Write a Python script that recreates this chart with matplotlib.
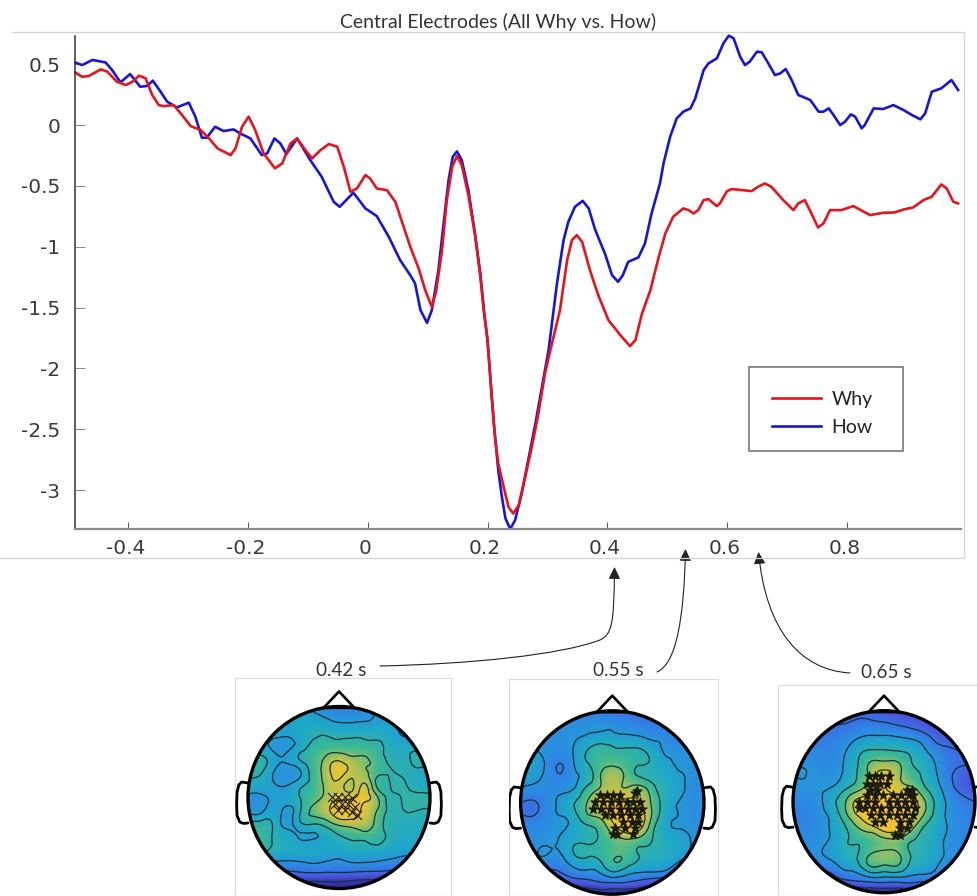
import numpy as np
import matplotlib
matplotlib.use("Agg")
import matplotlib.pyplot as plt
import matplotlib.tri as mtri
from matplotlib.colors import LinearSegmentedColormap
from matplotlib.lines import Line2D
from matplotlib.patches import Circle, FancyArrowPatch, Rectangle
from matplotlib.path import Path
from matplotlib.transforms import ScaledTranslation

# ---------- curve data ----------
how_t = [-.488,-.477,-.46,-.438,-.427,-.413,-.397,-.38,-.369,-.359,-.346,-.335,-.319,-.299,-.288,-.277,-.269,-.255,-.241,-.224,-.213,-.196,-.177,-.168,-.156,-.146,-.136,-.118,-.096,-.077,-.057,-.047,-.035,-.024,-.004,.015,.035,.054,
 .071,.079,.088,.099,.107,.118,.127,.135,.142,.149,.157,.168,.179,.188,.194,.2,.205,.211,.218,.224,.23,.238,.246,.257,.268,.28,.291,.302,.316,.327,.335,.346,.359,.369,.38,.396,.408,.418,.426,.435,.452,.463,.474,.488,
 .494,.505,.516,.527,.539,.547,.561,.569,.583,.594,.603,.611,.622,.63,.638,.65,.658,.669,.68,.689,.698,.708,.719,.73,.739,.753,.761,.77,.778,.789,.797,.807,.814,.825,.83,.845,.861,.878,.895,.909,.923,.931,.942,.958,.975,.986]
how_v = [.513,.493,.535,.515,.452,.351,.419,.315,.321,.365,.274,.192,.145,.184,.069,-.104,-.104,-.014,-.049,-.036,-.069,-.11,-.247,-.233,-.11,-.151,-.238,-.11,-.288,-.425,-.63,-.672,-.611,-.556,-.685,-.748,-.918,-1.11,
 -1.234,-1.302,-1.521,-1.626,-1.521,-1.192,-.795,-.452,-.26,-.217,-.288,-.535,-.89,-1.22,-1.521,-1.768,-2.097,-2.48,-2.837,-3.056,-3.234,-3.32,-3.248,-3.03,-2.755,-2.453,-2.152,-1.85,-1.302,-.946,-.795,-.672,-.623,-.685,-.863,-1.055,-1.234,-1.288,-1.234,-1.124,-1.088,-.973,-.726,-.48,
 -.315,-.096,.055,.11,.137,.219,.452,.507,.548,.672,.735,.713,.562,.493,.521,.603,.598,.507,.411,.425,.461,.37,.247,.225,.206,.11,.11,.137,.082,0,.027,.088,.069,-.027,0,.137,.132,.164,.123,.082,.047,.096,.274,.302,.37,.288]

why_t = [-.488,-.477,-.466,-.446,-.435,-.419,-.404,-.393,-.382,-.371,-.36,-.349,-.341,-.324,-.31,-.296,-.279,-.265,-.251,-.229,-.221,-.21,-.199,-.188,-.174,-.155,-.143,-.129,-.118,-.104,-.093,-.079,-.065,-.051,-.04,-.029,-.018,-.004,.004,.015,.032,.046,
 .071,.085,.096,.107,.114,.124,.132,.141,.149,.157,.168,.179,.188,.194,.2,.207,.213,.218,.227,.235,.243,.252,.263,.274,.285,.296,.305,.321,.333,.341,.349,.358,.371,.385,.402,.422,.438,.447,.458,.472,.486,.497,.51,.527,
 .536,.544,.552,.561,.569,.583,.588,.6,.608,.641,.652,.663,.674,.694,.711,.719,.73,.741,.752,.761,.772,.791,.811,.839,.861,.88,.895,.911,.928,.942,.958,.967,.978,.986]
why_v = [.43,.397,.403,.458,.439,.356,.329,.356,.406,.384,.247,.164,.156,.164,.082,-.008,-.041,-.11,-.192,-.247,-.192,-.014,.069,-.041,-.233,-.356,-.315,-.151,-.11,-.206,-.274,-.206,-.156,-.178,-.343,-.548,-.521,-.411,-.439,-.521,-.535,-.63,
 -1.0,-1.179,-1.357,-1.494,-1.371,-1.028,-.617,-.343,-.255,-.329,-.576,-.9,-1.247,-1.535,-1.768,-2.234,-2.59,-2.782,-2.974,-3.139,-3.193,-3.125,-2.892,-2.645,-2.371,-2.042,-1.85,-1.521,-1.11,-.946,-.905,-.96,-1.192,-1.398,-1.604,-1.727,-1.817,-1.768,-1.549,-1.357,-1.083,-.891,-.754,-.685,
 -.699,-.726,-.699,-.617,-.609,-.666,-.644,-.543,-.526,-.543,-.507,-.48,-.507,-.617,-.699,-.644,-.617,-.726,-.842,-.809,-.699,-.699,-.666,-.74,-.721,-.718,-.694,-.677,-.617,-.589,-.488,-.521,-.63,-.644]

x_ticks = [-0.4, -0.2, 0, 0.2, 0.4, 0.6, 0.8]
x_labels = ["-0.4", "-0.2", "0", "0.2", "0.4", "0.6", "0.8"]
y_ticks = [0.5, 0, -0.5, -1, -1.5, -2, -2.5, -3]
y_labels = ["0.5", "0", "-0.5", "-1", "-1.5", "-2", "-2.5", "-3"]
title_text = "Central Electrodes (All Why vs. How)"
series_names = ["Why", "How"]

# ---------- scalp map data (rows run front to back of the head) ----------
map_042 = [
 [4,4,4,4,4,3.2,3,3,3,3.2,3.6,3.6,3,3,3],
 [4,4,4,4,3.9,3.9,3.6,3.3,3.3,3.4,3.7,3.8,3.2,3.2,3.2],
 [4,4,4,3.8,4,4.3,4.4,4.2,4.2,4.2,4.1,4,3.3,3.7,3.8],
 [4,3.9,3.2,3.2,3.9,4.7,4.8,4.8,4.8,4.8,4.7,4.1,4,4.2,4],
 [4.6,4.7,3.9,3.7,4.6,5,5.7,6.2,5.7,5.6,4.9,4.3,4.2,4.8,4.2],
 [4.7,4.6,3.5,2.9,3.4,4.9,6,7,6,5.6,4.9,4.6,4.2,4.2,4],
 [4.2,4.1,3.6,3.4,4.2,4.8,5.8,6.1,5.3,6.6,4.1,4.6,4.7,3.8,4],
 [3.3,3.2,3.8,4,4.5,5,5.8,6.2,6.3,6.8,5.5,4.2,4.7,4.9,4.7],
 [3.3,3.2,4,3.2,4.4,5.7,6.2,7.2,7.2,6.2,5.4,4.2,4.5,4.5,4.4],
 [4.7,4.8,4.3,3.2,4.3,4.6,5,5.8,6,6.2,5,4.2,4.2,4.2,4],
 [5,4.9,4.4,4,3.4,3.4,3.8,4.4,4.7,4.9,4.9,4.2,4.1,4.2,4],
 [5,4.7,4.4,4.4,4.2,4.2,4.1,3.9,4.2,4.2,4.2,4.1,3.9,3.9,3.6],
 [3.6,3.6,3.4,3.3,3.4,3.6,3.4,3.3,3.5,3.5,3.4,3.2,3,3,3],
 [2,2,2,2.1,2.2,2.2,2.2,2.2,2.1,2,2,2,2,2,2],
 [.6,.6,.6,.6,.6,.6,.6,.6,.6,.6,.6,.6,.6,.6,.6],
]
map_055 = [
 [3,3,3,3,3,3,2.8,2.6,2.6,2.6,2.6,2.6,2.6,2.8,3],
 [3.2,3.2,3.2,3.2,3.2,3.3,3.4,3.3,3,2.8,2.7,2.5,2.5,2.8,3],
 [3.3,3.3,3.3,3.3,3.4,3.6,3.8,3.8,3.7,3.6,3.3,3.2,2.7,3,3.1],
 [3.6,3.6,3.2,3.2,3.5,4.4,5,4.7,4.6,4.6,4.1,3.4,3.3,3.3,3.3],
 [4,4,3.3,2.5,3.4,4.4,5,5.2,4.9,4.6,4.4,3.8,3.4,3.3,3.3],
 [3.9,3.8,3.2,2.6,3.2,3.9,5.3,6.4,5.3,4.5,4.2,4.1,3.8,3.3,3.3],
 [3.4,3.2,3.2,3.2,3.5,4.7,5.6,5.8,5.6,6,5,4.2,4.1,3,3.3],
 [2.5,2.4,3,3.7,4.4,5.4,6.8,6.8,6.8,6.5,5.4,4.1,3.5,3.3,3.3],
 [2.6,2.5,3.1,3.5,4,5.3,5.8,6.8,7,7,5.5,4,3.5,3.3,3.3],
 [3.2,3.2,3.3,3.4,3.7,4.2,4.7,6,7,6.8,4.9,3.7,3.5,3.3,3.3],
 [3.2,3.3,3.4,3.6,4.3,4.4,4.6,5,5.2,4.9,4.5,4.2,4.3,3.5,3.3],
 [3.3,3.4,3.5,3.4,4.4,4.6,4.7,5.3,5.3,4.5,4.4,4.3,3.9,3.4,3.3],
 [3,3,2.7,2.7,3.4,3.7,3.9,5,4.5,4,4,3.8,3.2,3.2,3],
 [2,2,2,2,2.2,2.3,2.6,2.8,2.7,2.4,2.1,2,2,2,2],
 [.8,.8,.8,.8,.8,.8,.8,.8,.8,.8,.8,.8,.8,.8,.8],
]
map_065 = [
 [2,2,2,2,2,2.2,2.2,2,1.9,1.9,1.9,1.9,2,2,2],
 [2.5,2.5,2.5,2.5,2.5,2.7,2.7,2.6,2.4,2.2,1.9,1.8,1.8,2,2],
 [2.8,2.8,2.8,2.8,3,3.4,3.6,3.6,3.5,3.3,2.9,2.2,2,2,2.2],
 [3,3,3,3,3.4,4.2,4.5,4.5,4.4,4.3,3.7,2.9,2.6,2.4,2.3],
 [3.4,3.4,3.2,3,3.6,4.5,5.6,5.7,5.6,4.6,4.2,3.4,2.7,2.6,2.4],
 [3.5,3.5,3.3,3.2,3.7,4.6,5.9,6.8,5.9,4.9,4.4,3.6,2.7,2.1,1.9],
 [3.3,3.4,3.4,3.6,4.4,5.2,6.2,6.6,6,5.8,4.8,3.9,2.9,2.2,1.9],
 [3,3.1,3.3,4.2,5.4,6.8,6.8,6.9,7,7,5.8,4.3,3.3,2.8,2.5],
 [2.8,2.9,3.2,3.8,5.2,6.6,7,7,7,7,5.6,4.2,3.3,3,2.9],
 [3,3,3.2,3.6,4.4,5.5,6.2,7,7,6,4.5,4,3.4,3,2.9],
 [3.2,3.2,3.3,3.7,4.4,4.6,4.7,5.2,5.3,4.6,4.3,3.9,3.3,3.1,3],
 [3.2,3.2,3.4,3.9,4.4,4.5,5.5,5.8,5.7,4.5,4.4,3.9,3.3,3,3],
 [3,3,2.9,3,3.8,4.2,5.5,5.3,5.4,4.3,4.2,3.6,3,2.9,2.8],
 [2,2,2,2.1,2.5,2.7,3,3,3,3,2.8,2.6,2.2,2,2],
 [.8,.8,.8,.8,.8,.8,.8,.8,.8,.8,.8,.8,.8,.8,.8],
]
map_labels = ["0.42 s", "0.55 s", "0.65 s"]

sig_042_u = [-.08,-.01,.066,.14,-.044,.03,.103,.176,-.01,.066,.14,.195]
sig_042_v = [.01,.01,.01,-.01,-.066,-.066,-.066,-.103,-.14,-.14,-.158,-.195]
sig_055_u = [-.13,-.06,.01,.08,.25,.27,-.19,-.1,-.01,.07,.16,.23,.3,-.21,-.12,-.03,.08,.17,.25,.32,-.08,.01,.1,.19,.28,.12,.21,.28,.03,.14,.25,.01,.05,.23]
sig_055_v = [.08,.08,.08,.08,.1,.12,.01,.01,.01,.01,.01,.01,.01,-.07,-.07,-.07,-.07,-.07,-.07,-.07,-.14,-.14,-.14,-.14,-.14,-.21,-.21,-.21,-.28,-.28,-.28,-.34,-.34,-.34]
sig_065_u = [-.17,-.1,-.03,.05,-.19,-.12,-.04,.03,-.15,-.08,.25,.31,-.19,-.1,-.01,.1,.19,.27,.32,-.28,-.19,-.1,.05,.14,.23,.32,-.28,-.21,-.12,-.03,.07,.16,.25,.34,-.14,-.04,.05,.14,.23,.32,-.1,-.01,.18,.27,.18,.25,.12,.18]
sig_065_v = [.28,.28,.28,.28,.2,.2,.2,.2,.13,.13,.13,.13,.07,.07,.07,.07,.07,.07,.07,0,0,0,0,0,0,0,-.07,-.07,-.07,-.07,-.07,-.07,-.07,-.07,-.15,-.15,-.15,-.15,-.15,-.15,-.22,-.22,-.22,-.22,-.29,-.29,-.37,-.37]

# ---------- figure ----------
W, H = 977, 896
plt.rcParams["font.family"] = ["Lato", "DejaVu Sans"]
fig = plt.figure(figsize=(W / 100, H / 100), dpi=100, facecolor="white")

def rect(x0, y0, x1, y1):
    return [x0 / W, 1 - y1 / H, (x1 - x0) / W, (y1 - y0) / H]

def fx(px):
    return px / W

def fy(py):
    return 1 - py / H

RED, BLUE = "#e5141e", "#1616d6"

for xs, ys in [((12, 964), (32.5, 32.5)), ((964, 964), (32.5, 557.5)), ((0, 964), (557.5, 557.5))]:
    fig.add_artist(Line2D([fx(v) for v in xs], [fy(v) for v in ys], color="#d4d4d4", lw=0.9))

ax = fig.add_axes(rect(75, 36, 960.5, 529))
ax.set_xlim(-0.489, 0.99)
ax.set_ylim(-3.32, 0.732)
h_how, = ax.plot(how_t, how_v, color=BLUE, lw=1.9, solid_joinstyle="round", clip_on=False, label=series_names[1])
h_why, = ax.plot(why_t, why_v, color=RED, lw=1.9, solid_joinstyle="round", clip_on=False, label=series_names[0])
for s in ("top", "right"):
    ax.spines[s].set_visible(False)
ax.spines["left"].set_color("#333333")
ax.spines["left"].set_linewidth(1.1)
ax.spines["bottom"].set_color("#8a8a8a")
ax.spines["bottom"].set_linewidth(1.6)
ax.set_xticks(x_ticks, x_labels)
ax.set_yticks(y_ticks, y_labels)
ax.tick_params(axis="x", direction="in", length=5, width=0.7, color="#555555", labelsize=14.5,
               labelcolor="#3a3a3a", pad=7.5)
ax.tick_params(axis="y", direction="in", length=7, width=0.7, color="#888888", labelsize=14.5,
               labelcolor="#3a3a3a", pad=10.5)
for lab in ax.get_xticklabels():
    lab.set_fontfamily("DejaVu Sans")
    lab.set_transform(lab.get_transform() + ScaledTranslation(-2.5 / 100, 0, fig.dpi_scale_trans))
for lab in ax.get_yticklabels():
    lab.set_fontfamily("DejaVu Sans")

fig.text(fx(498.5), fy(22), title_text, ha="center", va="center", fontsize=14, color="#333333")

# legend box in figure pixels, entries placed by a frameless legend inside it
ax.add_patch(Rectangle((fx(748.5), fy(451)), (903 - 748.5) / W, (451 - 367) / H, transform=fig.transFigure,
                       facecolor="white", edgecolor="#777777", lw=1.2, zorder=3, clip_on=False))
leg = ax.legend(handles=[h_why, h_how], loc="lower left",
                bbox_to_anchor=((772 - 75) / 885.5, (529 - 436) / 493), borderaxespad=0, borderpad=0,
                fontsize=14, frameon=False, handlelength=2.5, handletextpad=0.57, labelspacing=0.58)
leg.set_zorder(10)
for t in leg.get_texts():
    t.set_color("#222222")

# ---------- scalp maps ----------
cmap = LinearSegmentedColormap.from_list("scalp", [
    (0.0, "#2a1f80"), (1.5 / 8, "#3a35b0"), (2 / 8, "#4a55dd"), (3 / 8, "#2f86e6"),
    (4 / 8, "#1fa8c8"), (5 / 8, "#3fb98f"), (5.5 / 8, "#7fbf6f"), (6 / 8, "#c4c24a"),
    (6.5 / 8, "#f0c52e"), (7 / 8, "#f7bf32"), (1.0, "#fbb93a")])
levels = [1.5, 2.5, 3.5, 4.5, 5.5, 6.5]
grid = np.linspace(-1, 1, 15)
step = grid[1] - grid[0]

def scalp(box, centre, radius, field, su, sv, marker, msize):
    x0, y0, x1, y1 = box
    cx, cy = centre
    a = fig.add_axes(rect(x0, y0, x1, y1))
    a.set_xticks([])
    a.set_yticks([])
    for s in a.spines.values():
        s.set_color("#dddddd")
        s.set_linewidth(0.9)
    field = np.array(field, dtype=float)
    e = 1 + step / 2
    im = a.imshow(field, extent=[-e, e, -e, e], origin="upper", cmap=cmap, vmin=0, vmax=8,
                  interpolation="bicubic", aspect="auto")
    a.set_xlim((x0 - cx) / radius, (x1 - cx) / radius)
    a.set_ylim((cy - y1) / radius, (cy - y0) / radius)
    clip = Circle((0, 0), 1.0, transform=a.transData)
    im.set_clip_path(clip)
    X, Y = np.meshgrid(grid, grid[::-1])
    tr = mtri.Triangulation(X.ravel(), Y.ravel())
    tr2, z2 = mtri.UniformTriRefiner(tr).refine_field(field.ravel(), subdiv=3)
    cs = a.tricontour(tr2, z2, levels=levels, colors="#12343a", linewidths=0.9)
    cs.set_clip_path(clip)
    a.scatter(su, sv, marker=marker, s=msize, c="#1a1a10", linewidths=0.8, zorder=5)
    a.add_patch(Circle((0, 0), 1.0, fill=False, ec="black", lw=2.4, zorder=6))
    a.plot([-.17, 0, .17, -.17], [.985, 1.165, .985, .985], color="black", lw=1.9, zorder=6)
    for sgn in (-1, 1):
        a.plot([sgn * 1.0, sgn * 1.07, sgn * 1.1, sgn * 1.12, sgn * 1.125, sgn * 1.12, sgn * 1.09, sgn * 1.05, sgn * 1.0],
               [.16, .17, .14, .06, -.08, -.2, -.27, -.285, -.28], color="black", lw=2.0, zorder=6,
               solid_capstyle="round")

scalp((234.5, 678, 450.5, 896), (339, 797.5), 91, map_042, sig_042_u, sig_042_v, "x", 42)
scalp((509.5, 679, 717.5, 896), (612.3, 802.5), 91.7, map_055, sig_055_u, sig_055_v, "*", 48)
scalp((777.5, 685, 980, 896), (884, 801.7), 91, map_065, sig_065_u, sig_065_v, "*", 48)

for text, px, py in zip(map_labels, (341, 618.5, 886.5), (670, 670.5, 672.5)):
    fig.text(fx(px), fy(py), text, ha="center", va="center", fontsize=13.6, color="#333333")

arrows = [
    ([(380, 666), (470, 664), (560, 655), (600, 640), (612, 634), (614, 625), (614.5, 567)],
     [Path.MOVETO] + [Path.CURVE4] * 6),
    ([(657, 672), (676, 664), (684, 620), (685.5, 549)], [Path.MOVETO] + [Path.CURVE4] * 3),
    ([(850, 673), (800, 670), (766, 630), (758.5, 552)], [Path.MOVETO] + [Path.CURVE4] * 3),
]
for pts, codes in arrows:
    verts = [(fx(a), fy(b)) for a, b in pts]
    fig.add_artist(FancyArrowPatch(path=Path(verts, codes), arrowstyle="-|>,head_length=4.5,head_width=2.2",
                                   transform=fig.transFigure, color="#222222", lw=0.8,
                                   shrinkA=0, shrinkB=0, mutation_scale=1.6))

fig.savefig("out.png", dpi=100)
